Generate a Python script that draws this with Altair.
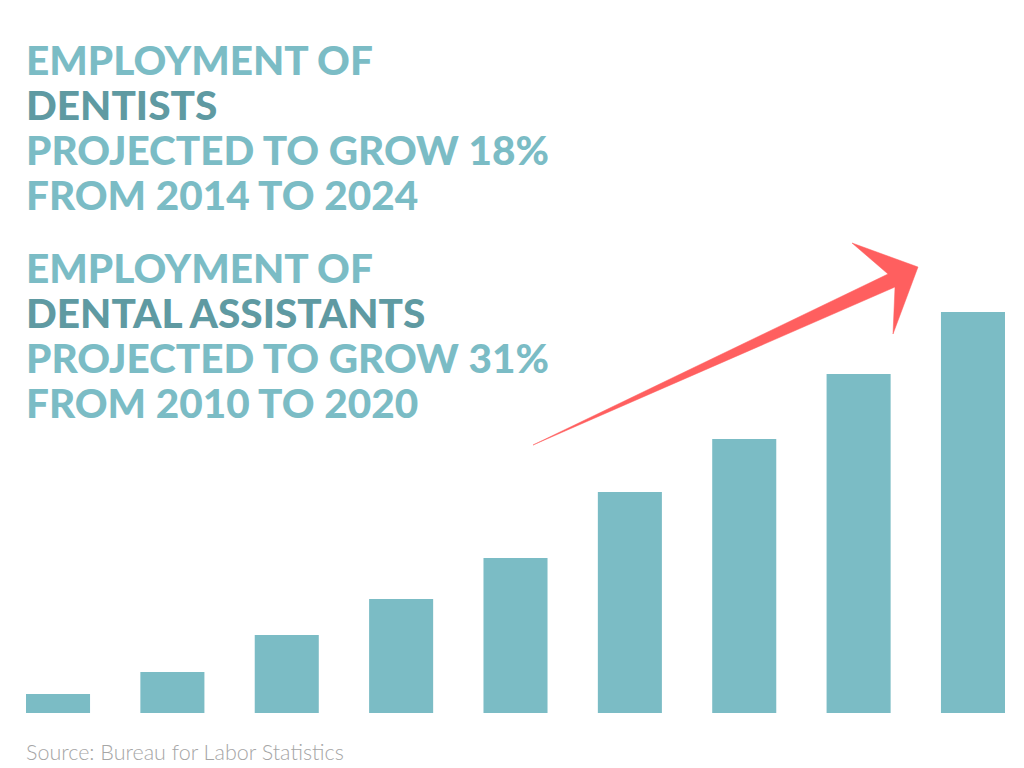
import altair as alt
import pandas as pd

# ---- data ----
bar_ids = ["1", "2", "3", "4", "5", "6", "7", "8", "9"]
bar_values = [19, 41, 78, 114, 155, 221, 274, 339, 401]

block1 = ["EMPLOYMENT OF", "DENTISTS", "PROJECTED TO GROW 18%", "FROM 2014 TO 2024"]
block2 = ["EMPLOYMENT OF", "DENTAL ASSISTANTS", "PROJECTED TO GROW 31%", "FROM 2010 TO 2020"]
source_text = "Source: Bureau for Labor Statistics"

# arrow outline (pixel coordinates in plot area)
arrow_x = [507, 862, 826, 892, 867, 869]
arrow_y = [437, 266, 235, 259, 326, 279]

LIGHT = "#7bbcc5"
DARK = "#5f9aa2"
RED = "#ff5f5f"

bars_df = pd.DataFrame({"id": bar_ids, "value": bar_values})
arrow_df = pd.DataFrame({"x": arrow_x, "y": arrow_y, "o": list(range(len(arrow_x)))})

bars = alt.Chart(bars_df).mark_bar(color=LIGHT).encode(
    x=alt.X("id:N", sort=bar_ids, axis=None,
            scale=alt.Scale(paddingInner=0.44, paddingOuter=0)),
    y=alt.Y("value:Q", axis=None, scale=alt.Scale(domain=[0, 705], nice=False)),
)

arrow = alt.Chart(arrow_df).mark_line(
    interpolate="linear-closed", fill=RED, stroke=RED, strokeWidth=0.5
).encode(
    x=alt.X("x:Q", scale=None),
    y=alt.Y("y:Q", scale=None),
    order="o:Q",
)

layers = [bars, arrow]

FONT = "Lato"
line_y1 = [67, 112, 157, 202]
line_y2 = [275, 320, 365, 410]
for lines, ys in ((block1, line_y1), (block2, line_y2)):
    for i, (t, yy) in enumerate(zip(lines, ys)):
        layers.append(
            alt.Chart(pd.DataFrame({"t": [t]})).mark_text(
                align="left", baseline="alphabetic", font=FONT, fontWeight=900,
                fontSize=40.5, color=DARK if i == 1 else LIGHT,
            ).encode(x=alt.value(0), y=alt.value(yy), text="t:N")
        )

layers.append(
    alt.Chart(pd.DataFrame({"t": [source_text]})).mark_text(
        align="left", baseline="alphabetic", font=FONT, fontWeight=300,
        fontSize=21.5, color="#a6a6a6",
    ).encode(x=alt.value(0), y=alt.value(752), text="t:N")
)

chart = alt.layer(*layers).properties(
    width=979, height=705,
    autosize=alt.AutoSizeParams(type="none"),
    padding={"left": 18, "top": 0, "right": 11, "bottom": 55},
    background="white",
).configure_view(stroke=None)

chart.save("out.html", embed_options={"renderer": "svg", "actions": False})
